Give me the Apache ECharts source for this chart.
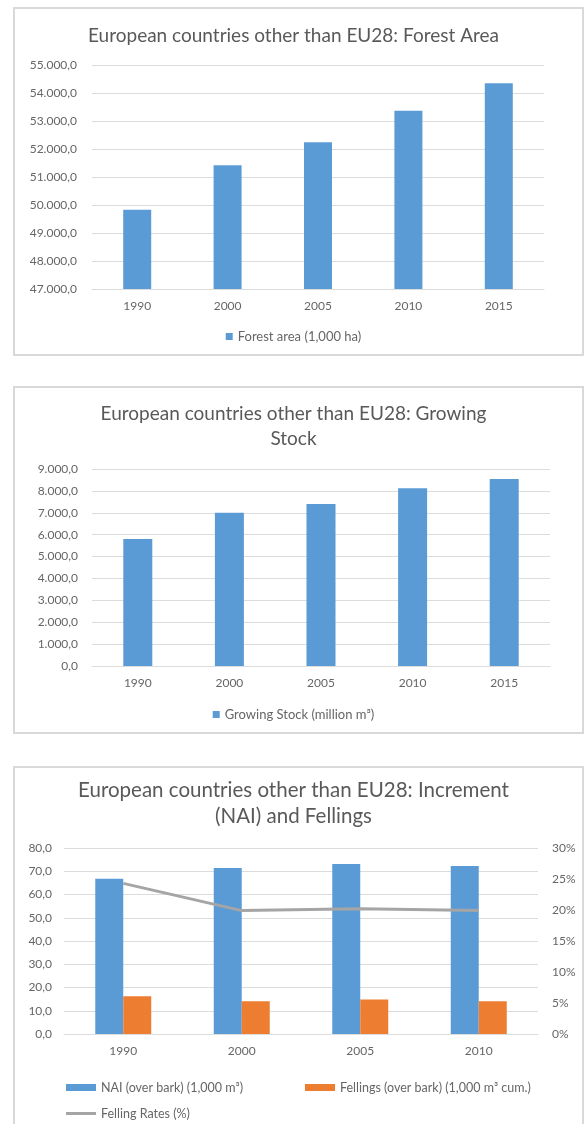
<!DOCTYPE html>
<html>
<head>
<meta charset="utf-8">
<style>
  html, body { margin: 0; padding: 0; background: #fff; }
  #chart { width: 587px; height: 1124px; }
</style>
<script src="https://cdn.jsdelivr.net/npm/echarts@6/dist/echarts.min.js"></script>
</head>
<body>
<div id="chart"></div>
<script>
// Forest area (1,000 ha)
const areaYears = ['1990', '2000', '2005', '2010', '2015'];
const forestArea = [49830, 51420, 52240, 53365, 54345];

// Growing stock (million m³)
const stockYears = ['1990', '2000', '2005', '2010', '2015'];
const growingStock = [5800, 7000, 7400, 8120, 8540];

// Increment and fellings
const incYears = ['1990', '2000', '2005', '2010'];
const naiValues = [66.8, 71.4, 73.1, 72.3];
const fellingValues = [16.2, 14.1, 14.8, 14.1];
const fellingRates = [0.243, 0.199, 0.202, 0.199];

const FONT = 'Lato, "Open Sans", sans-serif';
const TXT = '#666666';
const GRID = '#dcdcdc';
const BLUE = '#5b9bd5';
const ORANGE = '#ed7d31';
const GREY = '#a5a5a5';

// "55000" -> "55.000,0"
function euro1(v) {
  const parts = Number(v).toFixed(1).split('.');
  const int = parts[0].replace(/\B(?=(\d{3})+(?!\d))/g, '.');
  return int + ',' + parts[1];
}

function catAxis(gridIndex, data) {
  return {
    type: 'category', gridIndex, data,
    axisLine: { lineStyle: { color: GRID, width: 1 } },
    axisTick: { show: false },
    axisLabel: { color: TXT, fontFamily: FONT, fontSize: 12, margin: 11 }
  };
}

function valAxis(gridIndex, min, max, interval, formatter, margin) {
  return {
    type: 'value', gridIndex, min, max, interval,
    axisLine: { show: false },
    axisTick: { show: false },
    splitLine: { lineStyle: { color: GRID, width: 1 } },
    axisLabel: { color: TXT, fontFamily: FONT, fontSize: 12, margin, formatter }
  };
}

const titleStyle = { color: '#595959', fontFamily: FONT, fontSize: 19, fontWeight: 'normal', lineHeight: 25 };
const titleStyle3 = Object.assign({}, titleStyle, { fontSize: 20.5, lineHeight: 26 });
const legendText = { color: TXT, fontFamily: FONT, fontSize: 13 };
const legendText3 = { color: TXT, fontFamily: FONT, fontSize: 12.5 };

const chart = echarts.init(document.getElementById('chart'), null, { renderer: 'canvas' });

const rateAxis = valAxis(2, 0, 0.30, 0.05, v => Math.round(v * 100) + '%', 14);
rateAxis.position = 'right';
rateAxis.splitLine = { show: false };

chart.setOption({
  backgroundColor: '#fff',
  animation: false,
  graphic: [
    { type: 'rect', shape: { x: 14, y: 8, width: 569, height: 347 }, style: { fill: 'none', stroke: '#d9d9d9', lineWidth: 2 } },
    { type: 'rect', shape: { x: 14, y: 387, width: 569, height: 346 }, style: { fill: 'none', stroke: '#d9d9d9', lineWidth: 2 } },
    { type: 'rect', shape: { x: 14, y: 767, width: 569, height: 380 }, style: { fill: 'none', stroke: '#d9d9d9', lineWidth: 2 } }
  ],
  title: [
    { text: 'European countries other than EU28: Forest Area', left: 'center', top: 18, textStyle: titleStyle },
    { text: 'European countries other than EU28: Growing\nStock', left: 'center', top: 396, textStyle: titleStyle },
    { text: 'European countries other than EU28: Increment\n(NAI) and Fellings', left: 'center', top: 772, textStyle: titleStyle3 }
  ],
  legend: [
    { data: ['Forest area (1,000 ha)'], left: 'center', top: 325, icon: 'rect', itemWidth: 7, itemHeight: 7, itemGap: 10, textStyle: legendText },
    { data: ['Growing Stock (million m³)'], left: 'center', top: 703, icon: 'rect', itemWidth: 7, itemHeight: 7, textStyle: legendText },
    { data: ['NAI (over bark) (1,000 m³)'], left: 61, top: 1076, icon: 'rect', itemWidth: 30, itemHeight: 7, textStyle: legendText3 },
    { data: ['Fellings (over bark) (1,000 m³ cum.)'], left: 300, top: 1076, icon: 'rect', itemWidth: 30, itemHeight: 7, textStyle: legendText3 },
    { data: ['Felling Rates (%)'], left: 61, top: 1102, icon: 'rect', itemWidth: 30, itemHeight: 3, textStyle: legendText3 }
  ],
  grid: [
    { left: 92, width: 452, top: 65, height: 224 },
    { left: 92, width: 458, top: 469, height: 197 },
    { left: 64, width: 474, top: 848, height: 186 }
  ],
  xAxis: [
    catAxis(0, areaYears),
    catAxis(1, stockYears),
    catAxis(2, incYears)
  ],
  yAxis: [
    valAxis(0, 47000, 55000, 1000, euro1, 15),
    valAxis(1, 0, 9000, 1000, euro1, 14),
    valAxis(2, 0, 80, 10, euro1, 12),
    rateAxis
  ],
  series: [
    { name: 'Forest area (1,000 ha)', type: 'bar', xAxisIndex: 0, yAxisIndex: 0, data: forestArea, barWidth: 28, itemStyle: { color: BLUE } },
    { name: 'Growing Stock (million m³)', type: 'bar', xAxisIndex: 1, yAxisIndex: 1, data: growingStock, barWidth: 29, itemStyle: { color: BLUE } },
    { name: 'NAI (over bark) (1,000 m³)', type: 'bar', xAxisIndex: 2, yAxisIndex: 2, data: naiValues, barWidth: 28, barGap: '0%', itemStyle: { color: BLUE } },
    { name: 'Fellings (over bark) (1,000 m³ cum.)', type: 'bar', xAxisIndex: 2, yAxisIndex: 2, data: fellingValues, barWidth: 28, barGap: '0%', itemStyle: { color: ORANGE } },
    { name: 'Felling Rates (%)', type: 'line', xAxisIndex: 2, yAxisIndex: 3, data: fellingRates, showSymbol: false, symbol: 'none', lineStyle: { color: GREY, width: 3 }, itemStyle: { color: GREY } }
  ]
});
</script>
</body>
</html>
